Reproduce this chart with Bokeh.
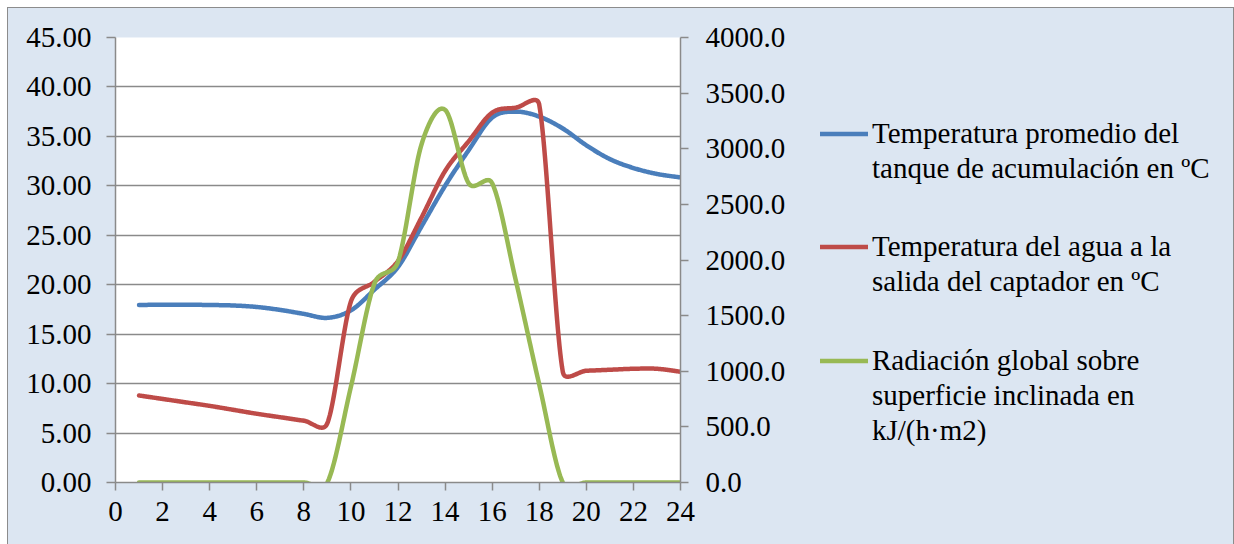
import numpy as np
from bokeh.plotting import figure
from bokeh.layouts import row
from bokeh.models import (Range1d, LinearAxis, NumeralTickFormatter, FixedTicker,
                          Legend, LegendItem)
from bokeh.embed import file_html
from bokeh.resources import INLINE

# ---------------- data ----------------
hours = list(range(1, 25))
temp_tank = [17.95, 17.98, 17.98, 17.95, 17.9, 17.75, 17.45, 17.05, 16.65, 17.4,
             19.5, 21.8, 25.9, 30.0, 33.6, 36.9, 37.5, 37.0, 35.8, 34.1,
             32.7, 31.8, 31.2, 30.85]
temp_out = [8.8, 8.45, 8.1, 7.75, 7.35, 6.95, 6.6, 6.25, 6.0, 18.3,
            20.3, 22.4, 26.8, 31.5, 34.5, 37.4, 37.9, 38.2, 11.2, 11.3,
            11.4, 11.5, 11.5, 11.2]
radiation = [0, 0, 0, 0, 0, 0, 0, 0, 0, 860,
             1790, 1985, 3040, 3350, 2690, 2690, 1820, 880, 0, 0,
             0, 0, 0, 0]
series_label_lines = [
    ["Temperatura promedio del", "tanque de acumulación en ºC"],
    ["Temperatura del agua a la", "salida del captador en ºC"],
    ["Radiación global sobre", "superficie inclinada en", "kJ/(h·m2)"],
]
series_colors = ["#4A7EBB", "#BE4B48", "#98B954"]
x_ticks = list(range(0, 25, 2))
left_ticks = list(range(0, 46, 5))
right_ticks = list(range(0, 4001, 500))

# ---------------- layout constants ----------------
FW, FH = 565, 445
X_MAX, YL_MAX, YR_MAX = 24, 45, 4000
FONT = "Liberation Serif"
FS = "29px"
GRAY = "#8a8a8a"
BG = "#DCE6F2"
LEFT, TOP, BOTTOM, RIGHT = 107, 29, 62, 130
TOTAL_W = 1225
H = TOP + FH + BOTTOM
LINE_H = 35


def smooth(xs, ys, sx, sy, n=30):
    """Excel-like smoothed line (Bezier through points), computed in pixel space."""
    P = np.array([[x * sx, y * sy] for x, y in zip(xs, ys)], dtype=float)
    out = [P[0]]
    m = len(P)
    for i in range(m - 1):
        p1, p2 = P[i], P[i + 1]
        p0 = P[i - 1] if i > 0 else p1
        p3 = P[i + 2] if i + 2 < m else p2
        d02 = np.hypot(*(p2 - p0))
        d13 = np.hypot(*(p3 - p1))
        d12 = np.hypot(*(p2 - p1))
        f0 = 1 / 6
        f1 = 1 / 6
        if d02 > 0 and d02 / 6 >= d12 / 2:
            f0 = d12 / d02 / 2
        if d13 > 0 and d13 / 6 >= d12 / 2:
            f1 = d12 / d13 / 2
        c1 = p1 + (p2 - p0) * f0
        c2 = p2 - (p3 - p1) * f1
        t = np.linspace(0, 1, n)[1:, None]
        seg = ((1 - t) ** 3) * p1 + 3 * ((1 - t) ** 2) * t * c1 + 3 * (1 - t) * t ** 2 * c2 + t ** 3 * p2
        out.extend(seg)
    out = np.array(out)
    return out[:, 0] / sx, out[:, 1] / sy


sx = FW / X_MAX
syl = FH / YL_MAX
syr = FH / YR_MAX

# ---------------- main chart ----------------
p = figure(frame_width=FW, frame_height=FH,
           x_range=Range1d(0, X_MAX), y_range=Range1d(0, YL_MAX),
           output_backend="svg", toolbar_location=None, tools="",
           min_border_left=LEFT, min_border_right=RIGHT,
           min_border_top=TOP, min_border_bottom=BOTTOM,
           background_fill_color="white", border_fill_color=BG,
           outline_line_color=None)
p.extra_y_ranges = {"right": Range1d(0, YR_MAX)}


def style_axis(ax, tick_out, standoff):
    ax.axis_line_color = GRAY
    ax.axis_line_width = 1.5
    ax.major_tick_line_color = GRAY
    ax.major_tick_line_width = 1.5
    ax.major_tick_in = 0
    ax.major_tick_out = tick_out
    ax.minor_tick_line_color = None
    ax.major_label_text_font = FONT
    ax.major_label_text_font_size = FS
    ax.major_label_text_color = "black"
    ax.major_label_standoff = standoff


p.xaxis.ticker = FixedTicker(ticks=x_ticks)
style_axis(p.xaxis[0], 8, 11)
p.yaxis.ticker = FixedTicker(ticks=left_ticks)
p.yaxis.formatter = NumeralTickFormatter(format="0.00")
style_axis(p.yaxis[0], 9, 15)

ry = LinearAxis(y_range_name="right", ticker=FixedTicker(ticks=right_ticks),
                formatter=NumeralTickFormatter(format="0.0"))
style_axis(ry, 8, 17)
p.add_layout(ry, "right")

p.xgrid.grid_line_color = None
p.ygrid.ticker = FixedTicker(ticks=left_ticks)
p.ygrid.grid_line_color = GRAY
p.ygrid.grid_line_width = 1.5

series = [(temp_tank, syl, "default"), (temp_out, syl, "default"), (radiation, syr, "right")]
for (vals, sy, rng), col in zip(series, series_colors):
    lx, ly = smooth(hours, vals, sx, sy)
    p.line(lx, ly, line_color=col, line_width=4.5, line_cap="round",
           line_join="round", y_range_name=rng)

# ---------------- legend panel ----------------
p_w = LEFT + FW + RIGHT
lg = figure(width=TOTAL_W - p_w, height=H, x_range=Range1d(0, 1), y_range=Range1d(0, 1),
            output_backend="svg", toolbar_location=None, tools="",
            x_axis_location=None, y_axis_location=None,
            min_border_left=0, min_border_right=0, min_border_top=TOP, min_border_bottom=BOTTOM,
            background_fill_alpha=0, border_fill_alpha=0, outline_line_color=None)
lg.grid.visible = False
# legend swatches: glyphs placed outside the visible range, shown only in the legend
blank = lg.line([-5, -4], [-5, -4], line_alpha=0)

top_lines_page = [133, 246.7, 360]   # centre of first text line (page px)
for lines, col, yc in zip(series_label_lines, series_colors, top_lines_page):
    swatch = lg.line([-5, -4], [-5, -4], line_color=col, line_width=4.5, line_cap="round")
    items = [LegendItem(label=lines[0], renderers=[swatch])]
    items += [LegendItem(label=t, renderers=[blank]) for t in lines[1:]]
    top = yc - LINE_H / 2 - 8            # figure coords
    frame_bottom = H - BOTTOM
    loc_y = frame_bottom - (top + LINE_H * len(lines))
    leg = Legend(items=items, location=(10, loc_y), orientation="vertical",
                 border_line_color=None, background_fill_alpha=0,
                 padding=0, margin=0, spacing=0,
                 glyph_width=48, glyph_height=LINE_H, label_height=LINE_H,
                 label_standoff=4,
                 label_text_font=FONT, label_text_font_size=FS,
                 label_text_color="black")
    lg.add_layout(leg)

layout = row(p, lg, margin=(8, 0, 0, 8), spacing=0,
             styles={"outline": "1px solid #8c8c8c", "background-color": BG})

open("out.html", "w").write(file_html(layout, INLINE))
